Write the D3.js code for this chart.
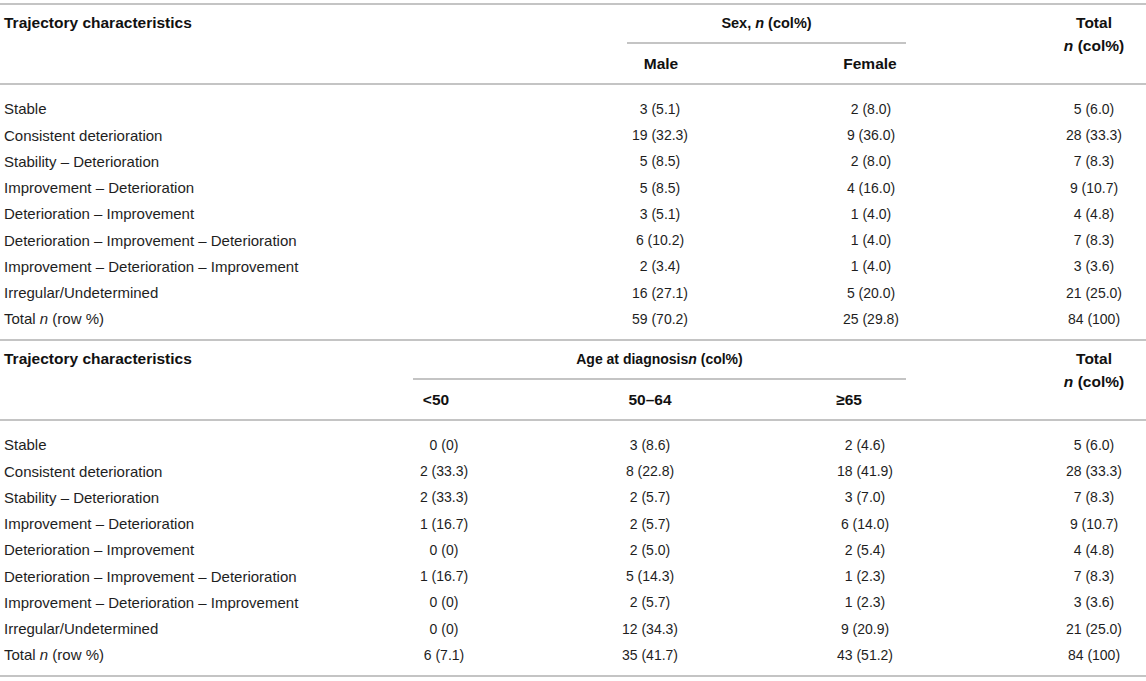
<!DOCTYPE html>
<html>
<head>
<meta charset="utf-8">
<script src="https://cdn.jsdelivr.net/npm/d3@7"></script>
<style>
  body { margin: 0; background: #fff; }
  svg { display: block; font-family: "Liberation Sans", Arial, Helvetica, sans-serif; }
</style>
</head>
<body>
<svg id="table"></svg>
<script>
var width = 1146, height = 681;

// row labels shared by both tables
var trajectories = [
	"Stable",
	"Consistent deterioration",
	"Stability \u2013 Deterioration",
	"Improvement \u2013 Deterioration",
	"Deterioration \u2013 Improvement",
	"Deterioration \u2013 Improvement \u2013 Deterioration",
	"Improvement \u2013 Deterioration \u2013 Improvement",
	"Irregular/Undetermined",
	"TOTAL"
];

// table 1: sex
var sexGroups = ["Male", "Female"];
var male   = ["3 (5.1)", "19 (32.3)", "5 (8.5)", "5 (8.5)", "3 (5.1)", "6 (10.2)", "2 (3.4)", "16 (27.1)", "59 (70.2)"];
var female = ["2 (8.0)", "9 (36.0)", "2 (8.0)", "4 (16.0)", "1 (4.0)", "1 (4.0)", "1 (4.0)", "5 (20.0)", "25 (29.8)"];

// table 2: age at diagnosis
var ageGroups = ["<50", "50\u201364", "\u226565"];
var ageUnder50 = ["0 (0)", "2 (33.3)", "2 (33.3)", "1 (16.7)", "0 (0)", "1 (16.7)", "0 (0)", "0 (0)", "6 (7.1)"];
var age50to64  = ["3 (8.6)", "8 (22.8)", "2 (5.7)", "2 (5.7)", "2 (5.0)", "5 (14.3)", "2 (5.7)", "12 (34.3)", "35 (41.7)"];
var age65plus  = ["2 (4.6)", "18 (41.9)", "3 (7.0)", "6 (14.0)", "2 (5.4)", "1 (2.3)", "1 (2.3)", "9 (20.9)", "43 (51.2)"];

var totals = ["5 (6.0)", "28 (33.3)", "7 (8.3)", "9 (10.7)", "4 (4.8)", "7 (8.3)", "3 (3.6)", "21 (25.0)", "84 (100)"];

var svg = d3.select("#table")
	.attr("width", width)
	.attr("height", height)
	.attr("viewBox", [0, 0, width, height]);

var ruleColor = "#c4c4c4";
var textColor = "#1e1e1e";
var headColor = "#111";

// opts: title parts, group keys, value columns, x of values / headers, span of the group rule
function drawTable(top, opts) {
	var g = svg.append("g").attr("transform", "translate(0," + top + ")");
	var headerH = 80;
	var rowStep = 26.25;

	// rows
	var y = d3.scalePoint()
		.domain(trajectories)
		.range([headerH + 25, headerH + 25 + rowStep * (trajectories.length - 1)]);

	var cols = opts.groups.concat(["Total"]);
	var x = d3.scaleOrdinal().domain(cols).range(opts.valueX.concat([1094]));
	var xh = d3.scaleOrdinal().domain(cols).range(opts.headX.concat([1094]));

	g.append("line")
		.attr("x1", 0).attr("x2", width)
		.attr("y1", 0).attr("y2", 0)
		.attr("stroke", ruleColor).attr("stroke-width", 2);

	g.append("text")
		.attr("x", 4).attr("y", 19)
		.attr("dy", "0.35em")
		.attr("font-size", 15.5).attr("font-weight", "bold")
		.attr("fill", headColor)
		.text("Trajectory characteristics");

	var gt = g.append("text")
		.attr("x", (opts.span[0] + opts.span[1]) / 2).attr("y", 19)
		.attr("dy", "0.35em")
		.attr("text-anchor", "middle")
		.attr("font-size", opts.titleSize).attr("font-weight", "bold")
		.attr("fill", headColor);
	gt.append("tspan").text(opts.title[0]);
	gt.append("tspan").attr("font-style", "italic").text("n");
	gt.append("tspan").text(opts.title[1]);

	g.append("line")
		.attr("x1", opts.span[0]).attr("x2", opts.span[1])
		.attr("y1", 39).attr("y2", 39)
		.attr("stroke", ruleColor).attr("stroke-width", 2);

	g.selectAll(".sub")
		.data(opts.groups)
		.join("text")
		.attr("class", "sub")
		.attr("x", d => xh(d)).attr("y", 60)
		.attr("dy", "0.35em")
		.attr("text-anchor", "middle")
		.attr("font-size", 15.5).attr("font-weight", "bold")
		.attr("fill", headColor)
		.text(d => d);

	// total header
	g.append("text")
		.attr("x", xh("Total")).attr("y", 19)
		.attr("dy", "0.35em")
		.attr("text-anchor", "middle")
		.attr("font-size", 15.5).attr("font-weight", "bold")
		.attr("fill", headColor)
		.text("Total");
	var tn = g.append("text")
		.attr("x", xh("Total")).attr("y", 42)
		.attr("dy", "0.35em")
		.attr("text-anchor", "middle")
		.attr("font-size", 15.5).attr("font-weight", "bold")
		.attr("fill", headColor);
	tn.append("tspan").attr("font-style", "italic").text("n");
	tn.append("tspan").text(" (col%)");

	g.append("line")
		.attr("x1", 0).attr("x2", width)
		.attr("y1", headerH).attr("y2", headerH)
		.attr("stroke", ruleColor).attr("stroke-width", 2);

	// row labels
	var labels = g.selectAll(".label")
		.data(trajectories)
		.join("text")
		.attr("class", "label")
		.attr("x", 4).attr("y", d => y(d))
		.attr("dy", "0.35em")
		.attr("font-size", 15)
		.attr("fill", textColor);
	labels.each(function(d) {
		var t = d3.select(this);
		if (d === "TOTAL") {
			t.append("tspan").text("Total ");
			t.append("tspan").attr("font-style", "italic").text("n");
			t.append("tspan").text(" (row %)");
		} else {
			t.text(d);
		}
	});

	// value cells
	cols.forEach(function(c, ci) {
		g.selectAll(".v" + ci)
			.data(opts.columns[ci])
			.join("text")
			.attr("class", "v" + ci)
			.attr("x", x(c))
			.attr("y", (d, i) => y(trajectories[i]))
			.attr("dy", "0.35em")
			.attr("text-anchor", "middle")
			.attr("font-size", 14)
			.attr("fill", textColor)
			.text(d => d);
	});

	return headerH + 25 + rowStep * (trajectories.length - 1) + 21;
}

var h1 = drawTable(4, {
	title: ["Sex, ", " (col%)"], titleSize: 14.5,
	groups: sexGroups,
	columns: [male, female, totals],
	valueX: [660, 871], headX: [661, 870],
	span: [627, 906]
});

var h2 = drawTable(4 + h1, {
	title: ["Age at diagnosis", " (col%)"], titleSize: 14,
	groups: ageGroups,
	columns: [ageUnder50, age50to64, age65plus, totals],
	valueX: [444, 650, 865], headX: [436, 650, 849],
	span: [413, 906]
});

// closing rule
svg.append("line")
	.attr("x1", 0).attr("x2", width)
	.attr("y1", 4 + h1 + h2).attr("y2", 4 + h1 + h2)
	.attr("stroke", ruleColor).attr("stroke-width", 2);
</script>
</body>
</html>
